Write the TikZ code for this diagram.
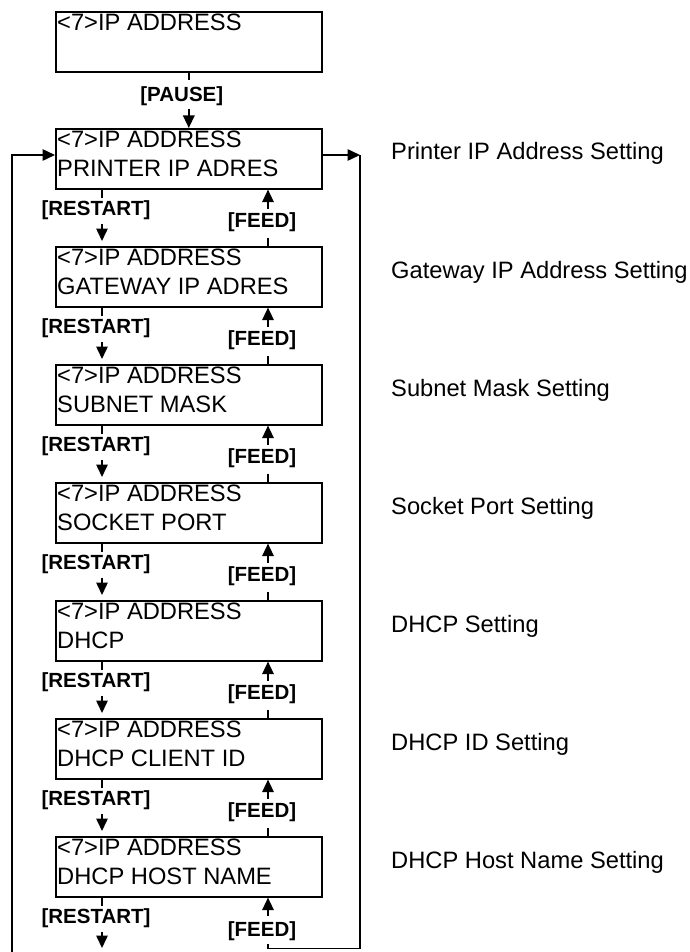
\documentclass[tikz,border=0pt]{standalone}
\usepackage{fontspec}
\setmainfont{Liberation Sans}
\usetikzlibrary{arrows.meta}
\begin{document}
\begin{tikzpicture}[x=1pt,y=-1pt,
  lcd/.style={draw, line width=1.6pt, minimum width=266pt, minimum height=60pt, inner sep=0pt, anchor=north west},
  lcdtext/.style={font=\fontsize{23.7pt}{29pt}\selectfont, align=left, inner sep=0pt, anchor=north west},
  key/.style={font=\bfseries\fontsize{20.5pt}{24pt}\selectfont, inner sep=0pt},
  desc/.style={font=\fontsize{23.7pt}{29pt}\selectfont, inner sep=0pt, anchor=base west},
  ln/.style={line width=1.5pt},
  arr/.style={line width=1.5pt, -{Triangle[length=12.5pt,width=11.5pt]}},
]
\useasboundingbox (0,0) rectangle (689,952);

% top box
\node[lcd] (b1) at (55,11) {};
\node[lcdtext] (t1) at ([shift={(2,3)}]b1.north west) {<7>IP ADDRESS};

% menu boxes
\foreach \i/\ty/\lcdl/\dsc in {
  2/128/PRINTER IP ADRES/Printer IP Address Setting,
  3/246/GATEWAY IP ADRES/Gateway IP Address Setting,
  4/364/SUBNET MASK/Subnet Mask Setting,
  5/482/SOCKET PORT/Socket Port Setting,
  6/600/DHCP/DHCP Setting,
  7/718/DHCP CLIENT ID/DHCP ID Setting,
  8/836/DHCP HOST NAME/DHCP Host Name Setting}{
  \node[lcd] (b\i) at (55,\ty) {};
  \node[lcdtext] (t\i) at ([shift={(2,3)}]b\i.north west) {<7>IP ADDRESS\\\lcdl};
  \node[desc] (d\i) at ([shift={(336,32)}]b\i.north west) {\dsc};
}

% PAUSE
\draw[ln] (b1.south) -- ([shift={(0,7)}]b1.south);
\node[key] (pause) at ([shift={(-7,24)}]b1.south) {[PAUSE]};
\draw[arr] ([shift={(0,36)}]b1.south) -- (b2.north);

% RESTART / FEED between boxes
\foreach \k/\n in {2/3,3/4,4/5,5/6,6/7,7/8}{
  \draw[ln] ([shift={(47,0)}]b\k.south west) -- ([shift={(47,8)}]b\k.south west);
  \node[key] (r\k) at ([shift={(41,21)}]b\k.south west) {[RESTART]};
  \draw[arr] ([shift={(47,34)}]b\k.south west) -- ([shift={(47,-5)}]b\n.north west);
  \draw[arr] ([shift={(213,19)}]b\k.south west) -- ([shift={(213,0)}]b\k.south west);
  \node[key] (f\k) at ([shift={(207,33)}]b\k.south west) {[FEED]};
  \draw[ln] ([shift={(213,48)}]b\k.south west) -- ([shift={(213,0)}]b\n.north west);
}

% bottom
\coordinate (cR) at (360,155);
\coordinate (cL) at (12,952);
\coordinate (rend) at (102,948);
\draw[ln] ([shift={(47,0)}]b8.south west) -- ([shift={(47,8)}]b8.south west);
\node[key] (r8) at ([shift={(41,21)}]b8.south west) {[RESTART]};
\draw[arr] ([shift={(47,34)}]b8.south west) -- (rend);
\draw[arr] ([shift={(213,18)}]b8.south west) -- ([shift={(213,0)}]b8.south west);
\node[key] (f8) at ([shift={(207,34)}]b8.south west) {[FEED]};
\draw[ln] ([shift={(213,46)}]b8.south west) -- ([shift={(213,51)}]b8.south west) -| (cR);

% loop arrows into / out of box 2
\draw[arr] ([shift={(0,27)}]b2.north east) -- (cR);
\draw[arr] (cL) |- ([shift={(0,27)}]b2.north west);
\end{tikzpicture}
\end{document}
